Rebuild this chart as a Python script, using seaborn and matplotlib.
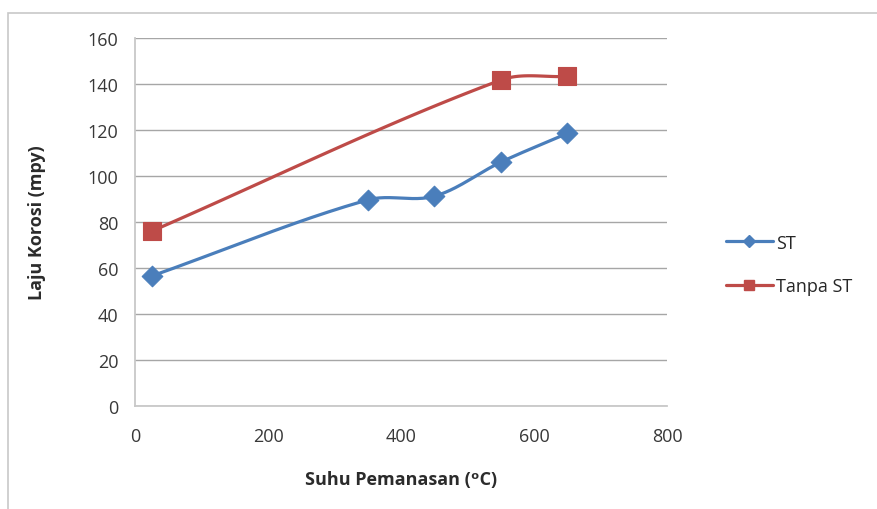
import numpy as np
import pandas as pd
import matplotlib
matplotlib.use('Agg')
import matplotlib.pyplot as plt
import seaborn as sns

# data
suhu_st = [25, 350, 450, 550, 650]
laju_st = [56.5, 89.6, 91.2, 106, 118.5]
suhu_tanpa = [25, 550, 650]
laju_tanpa = [76, 141.7, 143.3]


def smooth_line(x, y, sx=0.666, sy=2.3, n=40):
    # bezier smoothing with chord weighted tangents (done in pixel space)
    px = np.asarray(x, float) * sx
    py = np.asarray(y, float) * sy
    k = len(px)
    d = np.hypot(np.diff(px), np.diff(py))
    tx, ty = np.zeros(k), np.zeros(k)
    for i in range(k):
        a = max(i - 1, 0)
        b = min(i + 1, k - 1)
        ln = np.hypot(px[b] - px[a], py[b] - py[a])
        tx[i] = (px[b] - px[a]) / ln
        ty[i] = (py[b] - py[a]) / ln
    ox, oy = [px[0]], [py[0]]
    t = np.linspace(0, 1, n)[1:]
    for i in range(k - 1):
        h = d[i] / 3
        c1x, c1y = px[i] + tx[i] * h, py[i] + ty[i] * h
        c2x, c2y = px[i+1] - tx[i+1] * h, py[i+1] - ty[i+1] * h
        ox.extend((1-t)**3*px[i] + 3*(1-t)**2*t*c1x + 3*(1-t)*t**2*c2x + t**3*px[i+1])
        oy.extend((1-t)**3*py[i] + 3*(1-t)**2*t*c1y + 3*(1-t)*t**2*c2y + t**3*py[i+1])
    return np.array(ox) / sx, np.array(oy) / sy


sns.set_style('white')
plt.rcParams['font.family'] = ['Open Sans', 'DejaVu Sans']

fig = plt.figure(figsize=(8.77, 5.10), dpi=100)
ax = fig.add_axes([135/877, 1 - 407/510, (667-135)/877, (407-39)/510])

# outer chart border
fig.patches.append(plt.Rectangle((8/877, -0.01), 1.0, 1 - 14/510 + 0.01,
                                 transform=fig.transFigure, fill=False,
                                 edgecolor='#c8c8c8', linewidth=1.2))

biru = '#4a7ebb'
merah = '#be4b48'

for sx, sy, warna, mk, ms, lbl in [(suhu_st, laju_st, biru, 'D', 10.5, 'ST'),
                                   (suhu_tanpa, laju_tanpa, merah, 's', 13, 'Tanpa ST')]:
    cx, cy = smooth_line(sx, sy)
    ax.plot(cx, cy, color=warna, linewidth=2.3, zorder=3)
    df = pd.DataFrame({'x': sx, 'y': sy})
    sns.scatterplot(data=df, x='x', y='y', ax=ax, marker=mk, s=ms**2,
                    color=warna, edgecolor=warna, linewidth=0.8, zorder=4)
    ax.plot([], [], color=warna, linewidth=2.3, marker=mk,
            markersize=ms*0.6, label=lbl)

ax.set_xlim(0, 800)
ax.set_ylim(0, 160)
ax.set_xticks(range(0, 801, 200))
ax.set_yticks(range(0, 161, 20))
ax.yaxis.grid(True, color='#a6a6a6', linewidth=1)
ax.xaxis.grid(False)
for s in ['top', 'right']:
    ax.spines[s].set_visible(False)
for s in ['left', 'bottom']:
    ax.spines[s].set_color('#c8c8c8')
    ax.spines[s].set_linewidth(1.3)
ax.tick_params(axis='y', length=0, labelsize=13, colors='#383838', pad=12)
ax.tick_params(axis='x', length=0, labelsize=13, colors='#383838', pad=15)

ax.set_xlabel('Suhu Pemanasan (ᵒC)', fontsize=13, fontweight='bold',
              color='#2b2b2b', labelpad=18)
ax.set_ylabel('Laju Korosi (mpy)', fontsize=13, fontweight='bold',
              color='#2b2b2b', labelpad=30)

ax.legend(loc='center left', bbox_to_anchor=(1.08, 0.385), frameon=False,
          fontsize=13, handlelength=2.6, handletextpad=0.2, labelspacing=1.4)

plt.savefig('out.png', dpi=100)
